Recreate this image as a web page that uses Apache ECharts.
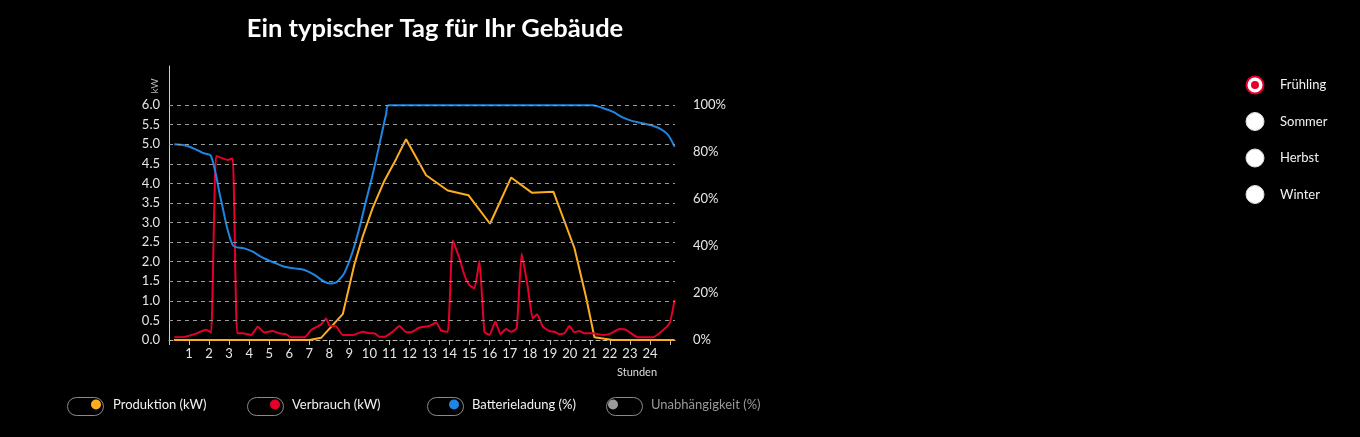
<!DOCTYPE html>
<html>
<head>
<meta charset="utf-8">
<script src="https://cdn.jsdelivr.net/npm/echarts@6/dist/echarts.min.js"></script>
<style>
html,body{margin:0;padding:0;background:#000;}
#chart{width:1360px;height:437px;}
</style>
</head>
<body>
<div id="chart"></div>
<script>
// ---- data (hours of day) ----
const prodHours  = [0.25, 7.0, 7.6, 8.67, 9.25, 9.67, 10.17, 10.75, 11.33, 11.83, 12.83, 13.91, 14.94, 16.02, 17.07, 18.12, 19.18, 20.23, 20.81, 21.23, 22.14, 25.23];
const prodValues = [0,    0,   0.06, 0.66, 1.93, 2.65, 3.38, 4.07, 4.62, 5.13, 4.21, 3.82, 3.70, 2.97, 4.15, 3.76, 3.79, 2.35, 1.10, 0.07, 0, 0];

const consHours  = [0.27, 0.77, 1.27, 1.85, 2.1, 2.35, 2.68, 2.93, 3.18, 3.4, 3.68, 4.1, 4.43, 4.76, 5.17, 5.5, 5.84, 6.09, 6.76, 7.1, 7.59, 7.84, 8.0, 8.34, 8.67, 9.17, 9.67, 10.0, 10.25, 10.5, 10.75, 11.16, 11.5, 11.83, 12.08, 12.5, 13.0, 13.33, 13.58, 13.91, 14.16, 14.49, 14.74, 14.99, 15.24, 15.49, 15.74, 15.99, 16.29, 16.54, 16.82, 17.07, 17.35, 17.6, 17.9, 18.15, 18.37, 18.65, 18.98, 19.23, 19.48, 19.73, 19.98, 20.23, 20.48, 20.73, 21.14, 21.64, 22.06, 22.47, 22.81, 23.39, 24.14, 24.56, 24.98, 25.23];
const consValues = [0.07, 0.08, 0.15, 0.26, 0.19, 4.70, 4.64, 4.60, 4.64, 0.17, 0.17, 0.13, 0.34, 0.19, 0.23, 0.17, 0.15, 0.07, 0.07, 0.26, 0.40, 0.55, 0.37, 0.35, 0.13, 0.13, 0.21, 0.17, 0.17, 0.08, 0.08, 0.21, 0.36, 0.20, 0.20, 0.32, 0.36, 0.45, 0.24, 0.21, 2.54, 2.09, 1.66, 1.40, 1.32, 2.02, 0.21, 0.13, 0.47, 0.15, 0.28, 0.21, 0.30, 2.21, 1.36, 0.55, 0.66, 0.34, 0.23, 0.21, 0.15, 0.17, 0.36, 0.20, 0.23, 0.17, 0.17, 0.13, 0.17, 0.28, 0.26, 0.07, 0.07, 0.21, 0.43, 1.02];

const battHours  = [0.27, 0.77, 1.27, 1.68, 2.1, 2.6, 3.18, 3.76, 4.18, 4.6, 5.26, 5.76, 6.26, 6.76, 7.26, 7.75, 8.05, 8.3, 8.5, 8.75, 9.17, 9.5, 9.83, 10.17, 10.5, 10.83, 10.97, 21.14, 21.64, 22.14, 22.64, 23.14, 23.64, 24.14, 24.56, 24.89, 25.23];
const battValues = [83.4, 82.9, 81.4, 79.7, 78.3, 59.4, 40.4, 39.0, 37.6, 35.4, 32.9, 31.2, 30.5, 29.8, 27.7, 24.8, 24.1, 24.3, 25.8, 28.5, 37.8, 47.7, 59.2, 70.7, 83.3, 96.0, 100, 100, 98.8, 97.2, 94.8, 93.2, 92.3, 91.2, 89.7, 87.5, 82.3];

const hourTicks   = [0,1,2,3,4,5,6,7,8,9,10,11,12,13,14,15,16,17,18,19,20,21,22,23,24,25];
const hourLabels  = [1,2,3,4,5,6,7,8,9,10,11,12,13,14,15,16,17,18,19,20,21,22,23,24];
const kwGridLevels = [0.5,1,1.5,2,2.5,3,3.5,4,4.5,5,5.5,6];
const seasons = ['Frühling','Sommer','Herbst','Winter'];
const seriesNames = ['Produktion (kW)','Verbrauch (kW)','Batterieladung (%)','Unabhängigkeit (%)'];
const colors = ['#FDAE1F','#E4002B','#1E86E2','#aaaaaa'];

const zip = (xs, ys) => xs.map((x, i) => [x, ys[i]]);
const FONT = 'Lato';
const LABEL = '#e6e6e6';
const GRID = '#9a9a9a';

const chart = echarts.init(document.getElementById('chart'), null, {renderer:'canvas'});

// legend layout (toggle switches)
const legendPos = [
  {pill:65,  dot:91,  pad:7},
  {pill:245, dot:270, pad:7},
  {pill:425, dot:449, pad:8},
  {pill:604, dot:608, pad:28}
];
const legends = seriesNames.map((n, i) => ({
  data:[{name:n, icon:'circle'}],
  left: legendPos[i].dot, top: 398, padding: 0,
  itemWidth: 10, itemHeight: 10,
  inactiveColor: '#9a9a9a',
  selected: {[n]: i !== 3},
  textStyle: {color: '#f2f2f2', fontFamily: FONT, fontSize: 13, padding:[0,0,0,legendPos[i].pad]}
}));

const graphics = [];
legendPos.forEach(p => {
  graphics.push({type:'rect', left:p.pill, top:395, z:-1,
    shape:{width:36, height:18, r:9},
    style:{fill:'none', stroke:'#8a8a8a', lineWidth:1}});
});
seasons.forEach((s, i) => {
  const cy = 85 + i*36.5;
  if (i === 0) {
    graphics.push({type:'circle', x:1255, y:cy, shape:{r:8.5}, style:{fill:'#fff', stroke:'#E4002B', lineWidth:2}});
    graphics.push({type:'circle', x:1255, y:cy, shape:{r:4}, style:{fill:'#E4002B'}});
  } else {
    graphics.push({type:'circle', x:1255, y:cy, shape:{r:9}, style:{fill:'#fff', stroke:'#ddd', lineWidth:1}});
  }
  graphics.push({type:'text', x:1280, y:cy, style:{text:s, fill:'#f2f2f2', font:'13px ' + FONT, verticalAlign:'middle'}});
});
graphics.push({type:'text', x:155, y:86, rotation:Math.PI/2,
  style:{text:'kW', fill:'#bbbbbb', font:'10px ' + FONT, align:'center', verticalAlign:'middle'}});
graphics.push({type:'text', x:637, y:372,
  style:{text:'Stunden', fill:'#dddddd', font:'11px ' + FONT, align:'center', verticalAlign:'middle'}});

chart.setOption({
  backgroundColor:'#000',
  animation:false,
  title:{text:'Ein typischer Tag für Ihr Gebäude', left:430, top:11, textAlign:'center',
    textStyle:{color:'#fff', fontFamily:FONT, fontWeight:'bold', fontSize:25.5}},
  legend: legends,
  graphic: graphics,
  grid:{left:169, right:685, top:66, bottom:97, containLabel:false},
  xAxis:{type:'value', min:0, max:25.25,
    axisLine:{show:true, onZero:false, lineStyle:{color:'#bbbbbb', type:[4,3]}},
    axisTick:{show:true, length:5, customValues:hourTicks, lineStyle:{color:'#bbbbbb'}},
    axisLabel:{show:true, customValues:hourLabels, color:LABEL, fontFamily:FONT, fontSize:13, margin:7},
    splitLine:{show:false}},
  yAxis:[
    {type:'value', min:0, max:7, interval:0.5,
      axisLine:{show:true, lineStyle:{color:'#cccccc'}},
      axisTick:{show:false},
      axisLabel:{color:LABEL, fontFamily:FONT, fontSize:13, margin:9,
        formatter:v => v > 6.001 ? '' : v.toFixed(1)},
      splitLine:{show:false}},
    {type:'value', min:0, max:700/6, interval:20, position:'right',
      axisLine:{show:false}, axisTick:{show:false},
      axisLabel:{color:LABEL, fontFamily:FONT, fontSize:13, margin:18,
        formatter:v => v > 100.01 ? '' : Math.round(v) + '%'},
      splitLine:{show:false}}
  ],
  series:[
    {name:'_grid', type:'line', data:[], yAxisIndex:0, z:1, silent:true,
      markLine:{silent:true, symbol:['none','none'], label:{show:false},
        lineStyle:{color:GRID, type:[4,4], width:1},
        data:kwGridLevels.map(v => ({yAxis:v}))}},
    {name:seriesNames[0], type:'line', yAxisIndex:0, data:zip(prodHours, prodValues),
      color:colors[0], showSymbol:false, smooth:false, lineStyle:{width:2}, clip:false},
    {name:seriesNames[1], type:'line', yAxisIndex:0, data:zip(consHours, consValues),
      color:colors[1], showSymbol:false, smooth:0.15, lineStyle:{width:2}, clip:false},
    {name:seriesNames[2], type:'line', yAxisIndex:1, data:zip(battHours, battValues),
      color:colors[2], showSymbol:false, smooth:0.3, lineStyle:{width:2}, clip:false},
    {name:seriesNames[3], type:'line', yAxisIndex:1, data:[],
      color:colors[3], showSymbol:false}
  ]
});
</script>
</body>
</html>
